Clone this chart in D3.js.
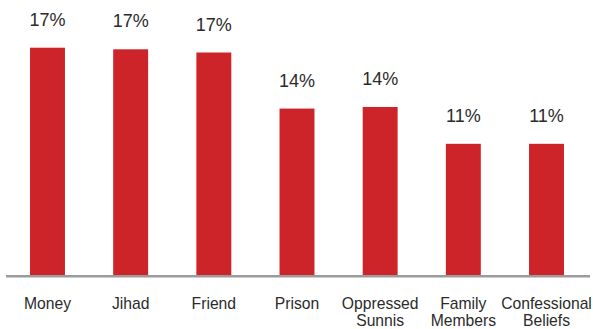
<!DOCTYPE html>
<html>
<head>
<meta charset="utf-8">
<script src="https://cdn.jsdelivr.net/npm/d3@7/dist/d3.min.js"></script>
<style>
  html, body { margin: 0; padding: 0; background: #fff; }
  svg { display: block; }
  text { font-family: "Liberation Sans", Arial, Helvetica, sans-serif; fill: #2b2b2b; }
</style>
</head>
<body>
<svg id="chart" width="593" height="329"></svg>
<script>
// Share of respondents naming each motive (percent)
const categories = [
  ["Money"], ["Jihad"], ["Friend"], ["Prison"],
  ["Oppressed", "Sunnis"], ["Family", "Members"], ["Confessional", "Beliefs"]
];
const values = [17.4, 17.3, 17.1, 13.6, 13.7, 11.4, 11.4];

const W = 593, H = 329;
const baseline = 275;
const svg = d3.select("#chart");

const keys = categories.map(c => c.join(" "));

const x = d3.scaleBand()
  .domain(keys)
  .range([5.9, 588.1])
  .paddingInner(0.58)
  .paddingOuter(0.29);

const y = d3.scaleLinear()
  .domain([3.21, 17.4])
  .range([baseline, 47.7]);

// bars
svg.append("g")
  .selectAll("rect")
  .data(values)
  .join("rect")
  .attr("x", (d, i) => x(keys[i]))
  .attr("y", d => y(d))
  .attr("width", x.bandwidth())
  .attr("height", d => baseline - y(d))
  .attr("fill", "#cd2429");

// baseline rule
svg.append("line")
  .attr("x1", 6).attr("x2", 590)
  .attr("y1", baseline + 1.25).attr("y2", baseline + 1.25)
  .attr("stroke", "#9b9b9b")
  .attr("stroke-width", 2.5);

// value labels
svg.append("g")
  .selectAll("text")
  .data(values)
  .join("text")
  .attr("x", (d, i) => x(keys[i]) + x.bandwidth() / 2)
  .attr("y", d => y(d) - 22)
  .attr("text-anchor", "middle")
  .style("font-size", "18px")
  .text(d => d3.format(".0f")(d) + "%");

// category labels
const cat = svg.append("g")
  .selectAll("text")
  .data(categories)
  .join("text")
  .attr("x", (d, i) => x(keys[i]) + x.bandwidth() / 2)
  .attr("y", 308.5)
  .attr("text-anchor", "middle")
  .style("font-size", "15.7px");

cat.selectAll("tspan")
  .data(d => d)
  .join("tspan")
  .attr("x", function () { return d3.select(this.parentNode).attr("x"); })
  .attr("dy", (d, i) => i === 0 ? 0 : 17.5)
  .text(d => d);
</script>
</body>
</html>
